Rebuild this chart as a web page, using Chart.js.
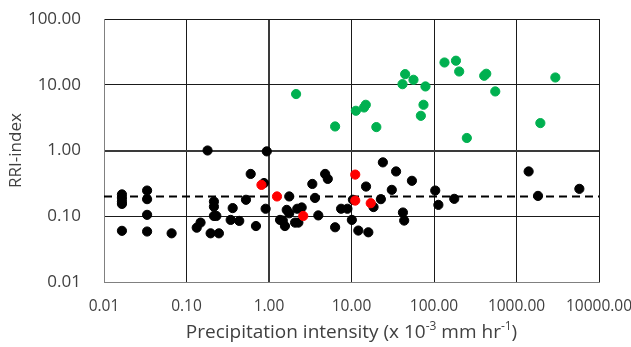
<!DOCTYPE html>
<html>
<head>
<meta charset="utf-8">
<script src="https://cdn.jsdelivr.net/npm/chart.js@4"></script>
<style>
html,body{margin:0;padding:0;background:#fff;}
#wrap{width:631px;height:347px;position:relative;}
</style>
</head>
<body>
<div id="wrap"><canvas id="c" width="631" height="347"></canvas></div>
<script>
const xTicks = [0.01, 0.1, 1, 10, 100, 1000, 10000];
const yTicks = [0.01, 0.1, 1, 10, 100];
const threshold = 0.2;

const blackX = [0.0165,0.0165,0.0165,0.0165,0.0165,
  0.0333,0.0333,0.0333,0.0333,
  0.066,
  0.133,0.148,0.196,0.247,
  0.180,
  0.215,0.215,0.215,0.23,
  0.363,0.343,0.436,0.526,0.60,0.695,
  0.87,0.91,0.94,
  1.36,1.47,1.56,1.64,1.76,1.76,
  2.07,2.27,2.2,2.49,
  3.35,3.61,3.96,4.79,5.16,
  6.33,7.48,8.92,10.1,10.4,
  12.1,16.0,15.0,18.5,22.7,24.0,30.8,34.7,42,43.5,54,
  103.5,113,176,1403,1823,5780];
const blackY = [0.215,0.19,0.168,0.154,0.060,
  0.246,0.182,0.105,0.0586,
  0.055,
  0.067,0.080,0.055,0.055,
  1.0,
  0.167,0.14,0.101,0.101,
  0.133,0.088,0.085,0.178,0.44,0.071,
  0.32,0.13,0.97,
  0.088,0.086,0.071,0.125,0.20,0.111,
  0.080,0.080,0.13,0.136,
  0.31,0.19,0.103,0.44,0.37,
  0.068,0.13,0.13,0.088,0.178,
  0.0606,0.057,0.283,0.138,0.182,0.66,0.252,0.48,0.114,0.086,0.346,
  0.246,0.149,0.184,0.48,0.204,0.261];

const redX = [0.81,1.25,2.6,11.1,11.1,17.1];
const redY = [0.30,0.20,0.101,0.43,0.173,0.158];

const greenX = [2.13,6.33,11.3,14.2,14.9,20,41.5,44.7,56.4,78.8,74.6,69.3,134,184.5,202,250,406,430,553,2958,1946];
const greenY = [7.22,2.32,4.02,4.51,4.96,2.27,10.2,14.5,11.9,9.42,4.96,3.37,21.8,23.2,15.9,1.55,13.7,14.7,7.91,12.9,2.61];

const pts = (xs, ys) => xs.map((x, i) => ({x: x, y: ys[i]}));

const FONT = "'Open Sans', 'Liberation Sans', sans-serif";
const TEXT = '#404040';

const titlePlugin = {
  id: 'titles',
  afterDraw(chart) {
    const ctx = chart.ctx;
    const area = chart.chartArea;
    ctx.save();
    ctx.fillStyle = TEXT;
    const main = 19, sup = 12;
    const parts = [
      {t: 'Precipitation intensity (x 10', s: false},
      {t: '-3', s: true},
      {t: ' mm hr', s: false},
      {t: '-1', s: true},
      {t: ')', s: false}
    ];
    let total = 0;
    parts.forEach(p => {
      ctx.font = (p.s ? sup : main) + 'px ' + FONT;
      p.w = ctx.measureText(p.t).width;
      total += p.w;
    });
    let x = (area.left + area.right) / 2 - total / 2;
    const base = 338;
    ctx.textBaseline = 'alphabetic';
    ctx.textAlign = 'left';
    parts.forEach(p => {
      ctx.font = (p.s ? sup : main) + 'px ' + FONT;
      ctx.fillText(p.t, x, p.s ? base - 8 : base);
      x += p.w;
    });
    ctx.translate(16, (area.top + area.bottom) / 2);
    ctx.rotate(-Math.PI / 2);
    ctx.font = '17px ' + FONT;
    ctx.textAlign = 'center';
    ctx.textBaseline = 'middle';
    ctx.fillText('RRI-index', 0, 0);
    ctx.restore();
  }
};

function gridColor(ctx) {
  const v = ctx.tick && ctx.tick.value;
  if (v === 1) return '#3a3a3a';
  return '#1a1a1a';
}
function gridWidth(ctx) {
  const v = ctx.tick && ctx.tick.value;
  return v === 1 ? 2 : 1;
}

new Chart(document.getElementById('c'), {
  type: 'scatter',
  data: {
    datasets: [
      {label: 'red', data: pts(redX, redY), backgroundColor: '#FF0000', borderColor: '#FF0000', pointRadius: 4.6, pointHoverRadius: 4.6, order: 0},
      {label: 'green', data: pts(greenX, greenY), backgroundColor: '#00B050', borderColor: '#00B050', pointRadius: 4.6, pointHoverRadius: 4.6, order: 1},
      {label: 'black', data: pts(blackX, blackY), backgroundColor: '#000000', borderColor: '#000000', pointRadius: 4.6, pointHoverRadius: 4.6, order: 2},
      {type: 'line', label: 'threshold', data: [{x: xTicks[0], y: threshold}, {x: xTicks[xTicks.length - 1], y: threshold}],
       borderColor: '#000000', borderWidth: 2, borderDash: [8, 5], pointRadius: 0, fill: false, order: 3}
    ]
  },
  options: {
    responsive: false,
    animation: false,
    events: [],
    layout: {padding: {top: 19, right: 32, left: 0, bottom: 0}},
    plugins: {legend: {display: false}, tooltip: {enabled: false}, title: {display: false}},
    scales: {
      x: {
        type: 'logarithmic',
        min: 0.01, max: 10000,
        afterBuildTicks(axis) { axis.ticks = xTicks.map(v => ({value: v})); },
        afterFit(axis) { axis.height = 65; axis.paddingLeft = 0; axis.paddingRight = 0; },
        grid: {color: gridColor, lineWidth: gridWidth, drawTicks: false},
        border: {display: true, color: '#808080', width: 1},
        ticks: {
          autoSkip: false, maxRotation: 0, padding: 15,
          color: TEXT, font: {family: FONT, size: 15.5},
          callback: v => Number(v).toFixed(2)
        }
      },
      y: {
        type: 'logarithmic',
        min: 0.01, max: 100,
        afterBuildTicks(axis) { axis.ticks = yTicks.map(v => ({value: v})); },
        afterFit(axis) { axis.width = 104; axis.paddingTop = 0; axis.paddingBottom = 0; },
        grid: {color: gridColor, lineWidth: gridWidth, drawTicks: false},
        border: {display: true, color: '#808080', width: 1},
        ticks: {
          autoSkip: false, padding: 23,
          color: TEXT, font: {family: FONT, size: 17},
          callback: v => Number(v).toFixed(2)
        }
      }
    }
  },
  plugins: [titlePlugin]
});
</script>
</body>
</html>
